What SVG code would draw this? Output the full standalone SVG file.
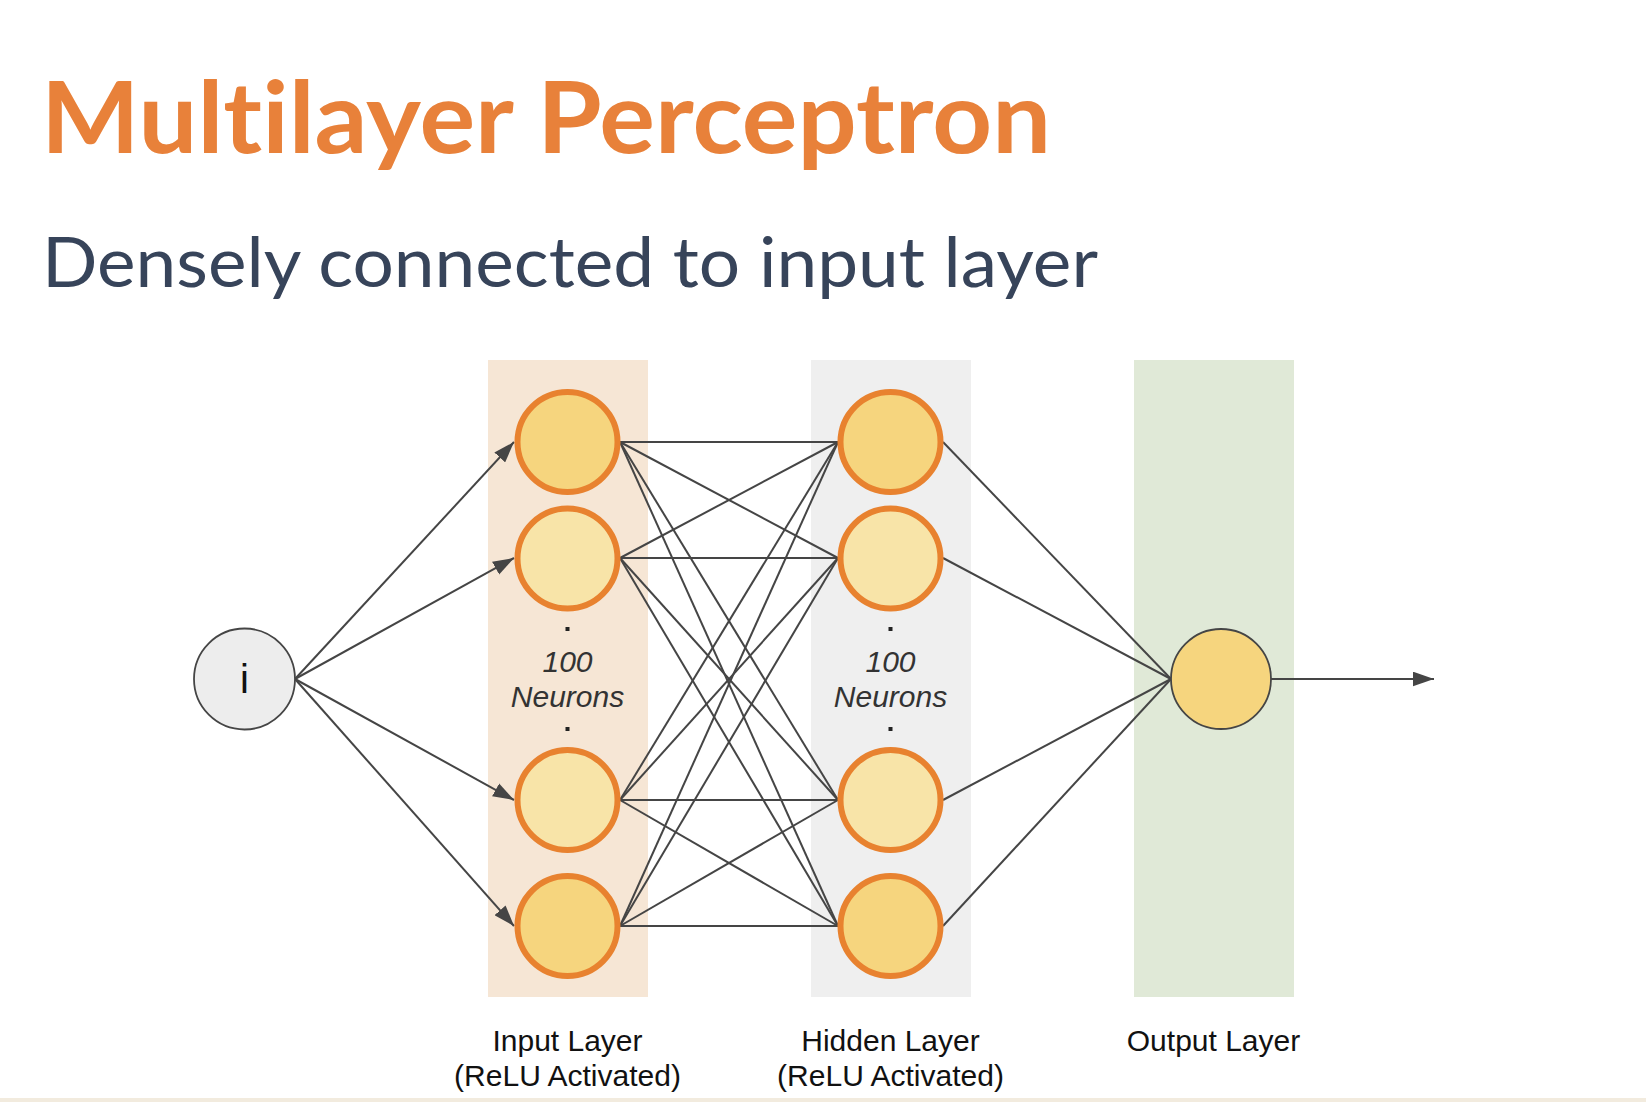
<svg xmlns="http://www.w3.org/2000/svg" width="1646" height="1102" viewBox="0 0 1646 1102">
  <style>
    .title { font-family: Lato, "Open Sans", sans-serif; font-weight: 700; font-size: 100px; fill: #e8813a; font-variant-ligatures: none; font-feature-settings: "liga" 0, "dlig" 0, "clig" 0; }
    .subtitle { font-family: Lato, "Open Sans", sans-serif; font-weight: 400; font-size: 70px; fill: #37445a; font-variant-ligatures: none; font-feature-settings: "liga" 0; }
    .label { font-family: "Liberation Sans", Arial, sans-serif; font-size: 30px; fill: #111; text-anchor: middle; }
    .count { font-family: "Liberation Sans", Arial, sans-serif; font-style: italic; font-size: 30px; fill: #333; text-anchor: middle; }
    .neuron { stroke: #e8822f; stroke-width: 6; }
    .strong { fill: #f6d57e; }
    .light { fill: #f8e4a8; }
    .edge { stroke: #454545; stroke-width: 2; fill: none; }
    .dot { fill: #222; }
  </style>
  <defs>
    <marker id="arrow" viewBox="0 0 20 14" refX="20" refY="7" markerWidth="21" markerHeight="15" markerUnits="userSpaceOnUse" orient="auto">
      <path d="M0,0 L20,7 L0,14 z" fill="#454545"/>
    </marker>
  </defs>

  <rect width="1646" height="1102" fill="#ffffff"/>
  <rect x="0" y="1098" width="1646" height="4" fill="#f2ebde"/>

  <!-- heading -->
  <text class="title" x="41" y="153" textLength="1010" lengthAdjust="spacingAndGlyphs">Multilayer Perceptron</text>
  <text class="subtitle" x="42" y="287" textLength="1056" lengthAdjust="spacingAndGlyphs">Densely connected to input layer</text>

  <!-- layer bands -->
  <g id="bands">
    <rect x="488" y="360" width="160" height="637" fill="#f6e6d5"/>
    <rect x="811" y="360" width="160" height="637" fill="#efefef"/>
    <rect x="1134" y="360" width="160" height="637" fill="#e0e9d7"/>
  </g>

  <!-- connectors -->
  <g id="connectors">
    <!-- source to input layer -->
    <line class="edge" x1="295" y1="679" x2="514" y2="442" marker-end="url(#arrow)"/>
    <line class="edge" x1="295" y1="679" x2="514" y2="558" marker-end="url(#arrow)"/>
    <line class="edge" x1="295" y1="679" x2="514" y2="800" marker-end="url(#arrow)"/>
    <line class="edge" x1="295" y1="679" x2="514" y2="926" marker-end="url(#arrow)"/>

    <!-- input layer to hidden layer (dense) -->
    <line class="edge" x1="620" y1="442" x2="838" y2="442"/>
    <line class="edge" x1="620" y1="442" x2="838" y2="558"/>
    <line class="edge" x1="620" y1="442" x2="838" y2="800"/>
    <line class="edge" x1="620" y1="442" x2="838" y2="926"/>
    <line class="edge" x1="620" y1="558" x2="838" y2="442"/>
    <line class="edge" x1="620" y1="558" x2="838" y2="558"/>
    <line class="edge" x1="620" y1="558" x2="838" y2="800"/>
    <line class="edge" x1="620" y1="558" x2="838" y2="926"/>
    <line class="edge" x1="620" y1="800" x2="838" y2="442"/>
    <line class="edge" x1="620" y1="800" x2="838" y2="558"/>
    <line class="edge" x1="620" y1="800" x2="838" y2="800"/>
    <line class="edge" x1="620" y1="800" x2="838" y2="926"/>
    <line class="edge" x1="620" y1="926" x2="838" y2="442"/>
    <line class="edge" x1="620" y1="926" x2="838" y2="558"/>
    <line class="edge" x1="620" y1="926" x2="838" y2="800"/>
    <line class="edge" x1="620" y1="926" x2="838" y2="926"/>

    <!-- hidden layer to output -->
    <line class="edge" x1="943" y1="442" x2="1171" y2="679"/>
    <line class="edge" x1="943" y1="558" x2="1171" y2="679"/>
    <line class="edge" x1="943" y1="800" x2="1171" y2="679"/>
    <line class="edge" x1="943" y1="926" x2="1171" y2="679"/>

    <!-- output arrow -->
    <line class="edge" x1="1271" y1="679" x2="1434" y2="679" marker-end="url(#arrow)"/>
  </g>

  <!-- source node -->
  <g id="node-i">
    <circle cx="244.5" cy="679" r="50.5" fill="#ededed" stroke="#454545" stroke-width="1.8"/>
    <text x="244.5" y="693" font-family="'Liberation Sans', Arial, sans-serif" font-size="40" fill="#111" text-anchor="middle">i</text>
  </g>

  <!-- input layer -->
  <g id="input-1"><circle class="neuron strong" cx="567.5" cy="442" r="50"/></g>
  <g id="input-2"><circle class="neuron light" cx="567.5" cy="558.5" r="50"/></g>
  <g id="input-ellipsis">
    <rect class="dot" x="565.5" y="627" width="4" height="4"/>
    <text class="count" x="567.5" y="672">100</text>
    <text class="count" x="567.5" y="707">Neurons</text>
    <rect class="dot" x="565.5" y="727" width="4" height="4"/>
  </g>
  <g id="input-3"><circle class="neuron light" cx="567.5" cy="800" r="50"/></g>
  <g id="input-4"><circle class="neuron strong" cx="567.5" cy="926" r="50"/></g>

  <!-- hidden layer -->
  <g id="hidden-1"><circle class="neuron strong" cx="890.5" cy="442" r="50"/></g>
  <g id="hidden-2"><circle class="neuron light" cx="890.5" cy="558.5" r="50"/></g>
  <g id="hidden-ellipsis">
    <rect class="dot" x="888.5" y="627" width="4" height="4"/>
    <text class="count" x="890.5" y="672">100</text>
    <text class="count" x="890.5" y="707">Neurons</text>
    <rect class="dot" x="888.5" y="727" width="4" height="4"/>
  </g>
  <g id="hidden-3"><circle class="neuron light" cx="890.5" cy="800" r="50"/></g>
  <g id="hidden-4"><circle class="neuron strong" cx="890.5" cy="926" r="50"/></g>

  <!-- output node -->
  <g id="output">
    <circle cx="1221" cy="679" r="50" fill="#f6d57e" stroke="#454545" stroke-width="1.8"/>
  </g>

  <!-- layer captions -->
  <g id="captions">
    <text class="label" x="567.5" y="1051">Input Layer</text>
    <text class="label" x="567.5" y="1086">(ReLU Activated)</text>
    <text class="label" x="890.5" y="1051">Hidden Layer</text>
    <text class="label" x="890.5" y="1086">(ReLU Activated)</text>
    <text class="label" x="1213.5" y="1051">Output Layer</text>
  </g>
</svg>
